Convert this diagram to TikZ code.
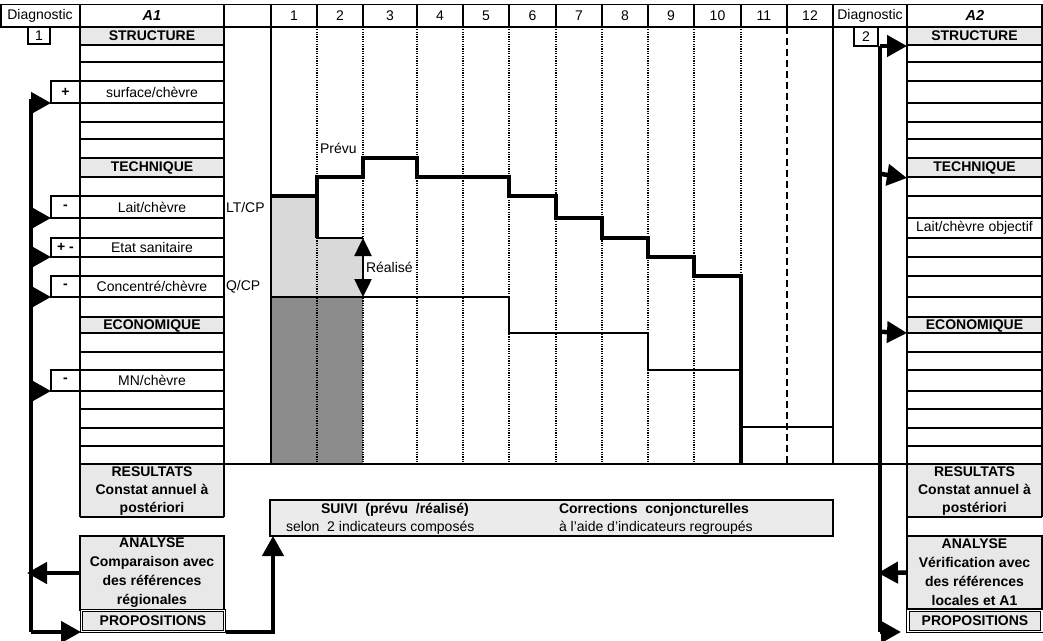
\documentclass[tikz,border=0pt]{standalone}
\usepackage{fontspec}
\setmainfont{Liberation Sans}
\usetikzlibrary{arrows.meta}
\begin{document}
\begin{tikzpicture}[x=1pt,y=-1pt,
  every node/.style={inner sep=0pt, outer sep=0pt},
  txt/.style={font=\fontsize{14}{16}\selectfont},
  btxt/.style={font=\fontsize{14}{16}\selectfont\bfseries},
  bitxt/.style={font=\fontsize{14.5}{16}\selectfont\bfseries\itshape},
  cellline/.style={line width=1.6pt},
  rowline/.style={line width=1.8pt},
  hshade/.style={fill=black!9},
  lshade/.style={fill=black!15},
  dshade/.style={fill=black!45},
  dotline/.style={line width=1.3pt, dash pattern=on 1.2pt off 1.2pt},
  dashline/.style={line width=1.8pt, dash pattern=on 7pt off 4pt},
  prevu/.style={line width=3.2pt, line join=miter},
  realise/.style={line width=2.2pt, line join=miter},
  fatline/.style={line width=4.5pt, line join=miter},
  bighead/.style={-{Triangle[length=20pt,width=21pt]}},
  pmbox/.style={draw, line width=1.6pt, minimum width=29pt, font=\fontsize{14}{16}\selectfont\bfseries},
  bigbox/.style={draw, line width=1.6pt, fill=black!9, minimum width=144pt, align=center},
  propbox/.style={draw, double, double distance=1.4pt, line width=1pt, fill=black!9, minimum width=143pt, minimum height=21pt, font=\fontsize{14}{16}\selectfont\bfseries}
]
\useasboundingbox (0,0) rectangle (1043,640);

% ---------- shading ----------
\foreach \xa/\xb in {80/224,907/1042}{
  \fill[hshade] (\xa,26.7) rectangle (\xb,45);
  \fill[hshade] (\xa,158) rectangle (\xb,177);
  \fill[hshade] (\xa,317) rectangle (\xb,333);
  \fill[hshade] (\xa,464) rectangle (\xb,517);
}
\fill[lshade] (271,196) rectangle (317,297);
\fill[lshade] (317,238) rectangle (363,297);
\fill[dshade] (271,297) rectangle (363,464);

% ---------- header ----------
\draw[cellline] (0.8,4.5) rectangle (1042,26.7);
\foreach \x in {80,224,271,317,363,417,463,509,556,602,648,694,741,787,833,907}
  \draw[cellline] (\x,4.5) -- (\x,26.7);
\node[txt] (hd1) at (40,15.6) {Diagnostic};
\node[bitxt] (hA1) at (152,15.6) {A1};
\node[txt] (hd2) at (870,15.6) {Diagnostic};
\node[bitxt] (hA2) at (975,15.6) {A2};
\foreach \n/\xa/\xb in {1/271/317,2/317/363,3/363/417,4/417/463,5/463/509,6/509/556,7/556/602,8/602/648,9/648/694,10/694/741,11/741/787,12/787/833}
  \node[txt] (m\n) at ({(\xa+\xb)/2},15.6) {\n};

% ---------- A1 and A2 columns ----------
\foreach \xa/\xb in {80/224,907/1042}{
  \foreach \y in {45,62,81,103,122,139,158,177,196,218,238,257,276,297,317,333,352,370,391,409,428,446,464,517}
    \draw[rowline] (\xa,\y) -- (\xb,\y);
  \draw[cellline] (\xa,26.7) -- (\xa,517);
  \draw[cellline] (\xb,26.7) -- (\xb,517);
}
\draw[cellline] (907,517) -- (907,536);

\node[btxt] (s1) at (152,36) {STRUCTURE};
\node[btxt] (t1) at (152,167.5) {TECHNIQUE};
\node[btxt] (e1) at (152,325.5) {ECONOMIQUE};
\node[txt] (r1) at (152,92) {surface/chèvre};
\node[txt] (r2) at (152,207) {Lait/chèvre};
\node[txt] (r3) at (152,247.5) {Etat sanitaire};
\node[txt] (r4) at (152,286.5) {Concentré/chèvre};
\node[txt] (r5) at (152,380.5) {MN/chèvre};
\node[align=center, font=\fontsize{14}{18}\selectfont\bfseries] (res1) at (152,491) {RESULTATS\\Constat annuel à\\postériori};

\node[btxt] (s2) at (974.5,36) {STRUCTURE};
\node[btxt] (t2) at (974.5,167.5) {TECHNIQUE};
\node[btxt] (e2) at (974.5,325.5) {ECONOMIQUE};
\node[txt] (o2) at (974.5,227.5) {Lait/chèvre objectif};
\node[align=center, font=\fontsize{14}{18}\selectfont\bfseries] (res2) at (974.5,491) {RESULTATS\\Constat annuel à\\postériori};

\node[txt, anchor=west] (lt) at (226,207) {LT/CP};
\node[txt, anchor=west] (qc) at (226,287) {Q/CP};

% diagnostic boxes
\node[draw, cellline, minimum width=22pt, minimum height=17.3pt, txt] (d1) at (39,35.4) {1};
\node[draw, cellline, minimum width=24pt, minimum height=19.3pt, txt] (d2) at (866,36.4) {2};

% +/- boxes
\node[pmbox, minimum height=22pt] (p1) at (65.5,92) {+};
\node[pmbox, minimum height=22pt] (p2) at (65.5,207) {-};
\node[pmbox, minimum height=19pt] (p3) at (65.5,247.5) {+ -};
\node[pmbox, minimum height=21pt] (p4) at (65.5,286.5) {-};
\node[pmbox, minimum height=21pt] (p5) at (65.5,380.5) {-};

% bottom boxes
\node[bigbox, minimum height=74pt, font=\fontsize{14}{19}\selectfont\bfseries] (ana1) at (152,573) {ANALYSE\\Comparaison avec\\des références\\régionales};
\node[propbox] (prop1) at (153,621) {PROPOSITIONS};
\node[bigbox, minimum width=135pt, minimum height=73pt, font=\fontsize{14}{19}\selectfont\bfseries] (ana2) at (974.5,572.5) {ANALYSE\\Vérification avec\\des références\\locales et A1};
\node[propbox, minimum width=134pt] (prop2) at (975,621) {PROPOSITIONS};

% ---------- chart ----------
\foreach \x in {317,363,417,463,509,556,602,648,694}
  \draw[dotline] (\x,26.7) -- (\x,464);
\draw[dotline] (741,26.7) -- (741,276);
\draw[dashline] (787,26.7) -- (787,464);
\draw[cellline] (271,26.7) -- (271,464);
\draw[cellline] (833,26.7) -- (833,464);
\draw[rowline] (224,464) -- (907,464);
\draw[cellline] (741,427) -- (833,427);

\draw[prevu] (271,196) -- (317,196) -- (317,177) -- (363,177) -- (363,158) -- (417,158) -- (417,177) -- (509,177) -- (509,196) -- (556,196) -- (556,218) -- (602,218) -- (602,238) -- (648,238) -- (648,257) -- (694,257) -- (694,276) -- (741,276) -- (741,464);
\draw[prevu] (317,196) -- (317,238);
\draw[realise] (317,238) -- (363,238);
\draw[realise] (271,297) -- (509,297) -- (509,333) -- (648,333) -- (648,370) -- (741,370);
\draw[line width=2.5pt, {Triangle[length=18pt,width=17pt]}-{Triangle[length=18pt,width=17pt]}] (363,238) -- (363,297);

\node[txt, anchor=west] (pv) at (320,148) {Prévu};
\node[txt, anchor=west] (rl) at (366,267) {Réalisé};

% SUIVI box
\node[draw, line width=2pt, fill=black!8, minimum width=563pt, minimum height=36pt, anchor=north west] (suivi) at (270,500) {};
\node[btxt, anchor=west] (su1) at (321,510) {SUIVI\ \ (prévu\ \ /réalisé)};
\node[txt, anchor=west] (su2) at (286,528) {selon\ \ 2 indicateurs composés};
\node[btxt, anchor=west] (su3) at (559,510) {Corrections\ \ conjoncturelles};
\node[txt, anchor=west] (su4) at (559,528) {à l'aide d'indicateurs regroupés};

% ---------- arrows ----------
\coordinate (vL) at (31,0);
\coordinate (vLtop) at (31,99);
\coordinate (vLbot) at (31,632);
\draw[fatline] (vLtop) -- (vLbot);
\foreach \p in {p1,p2,p3,p4,p5}
  \draw[fatline, bighead] (\p.south west -| vL) -- (\p.south west);
\draw[fatline, bighead] (ana1.west) -- (27,573);
\draw[fatline, bighead] (vLbot) -- (81,632);
\coordinate (suA) at (273,536);
\draw[fatline, bighead] (226,632) -- (273,632) -- (suA);

\coordinate (vR) at (880,0);
\coordinate (vRtop) at (880,46);
\coordinate (vRbot) at (880,632);
\draw[fatline] (vRtop) -- (vRbot);
\draw[fatline, bighead] (vRtop) -- (907,46);
\draw[fatline, bighead] (t2.south west -| vR) -- (907,178);
\draw[fatline, bighead] (e2.south west -| vR) -- (907,333);
\draw[fatline, bighead] (ana2.west) -- (878,573);
\draw[fatline, bighead] (vRbot) -- (901,632);
\end{tikzpicture}
\end{document}
